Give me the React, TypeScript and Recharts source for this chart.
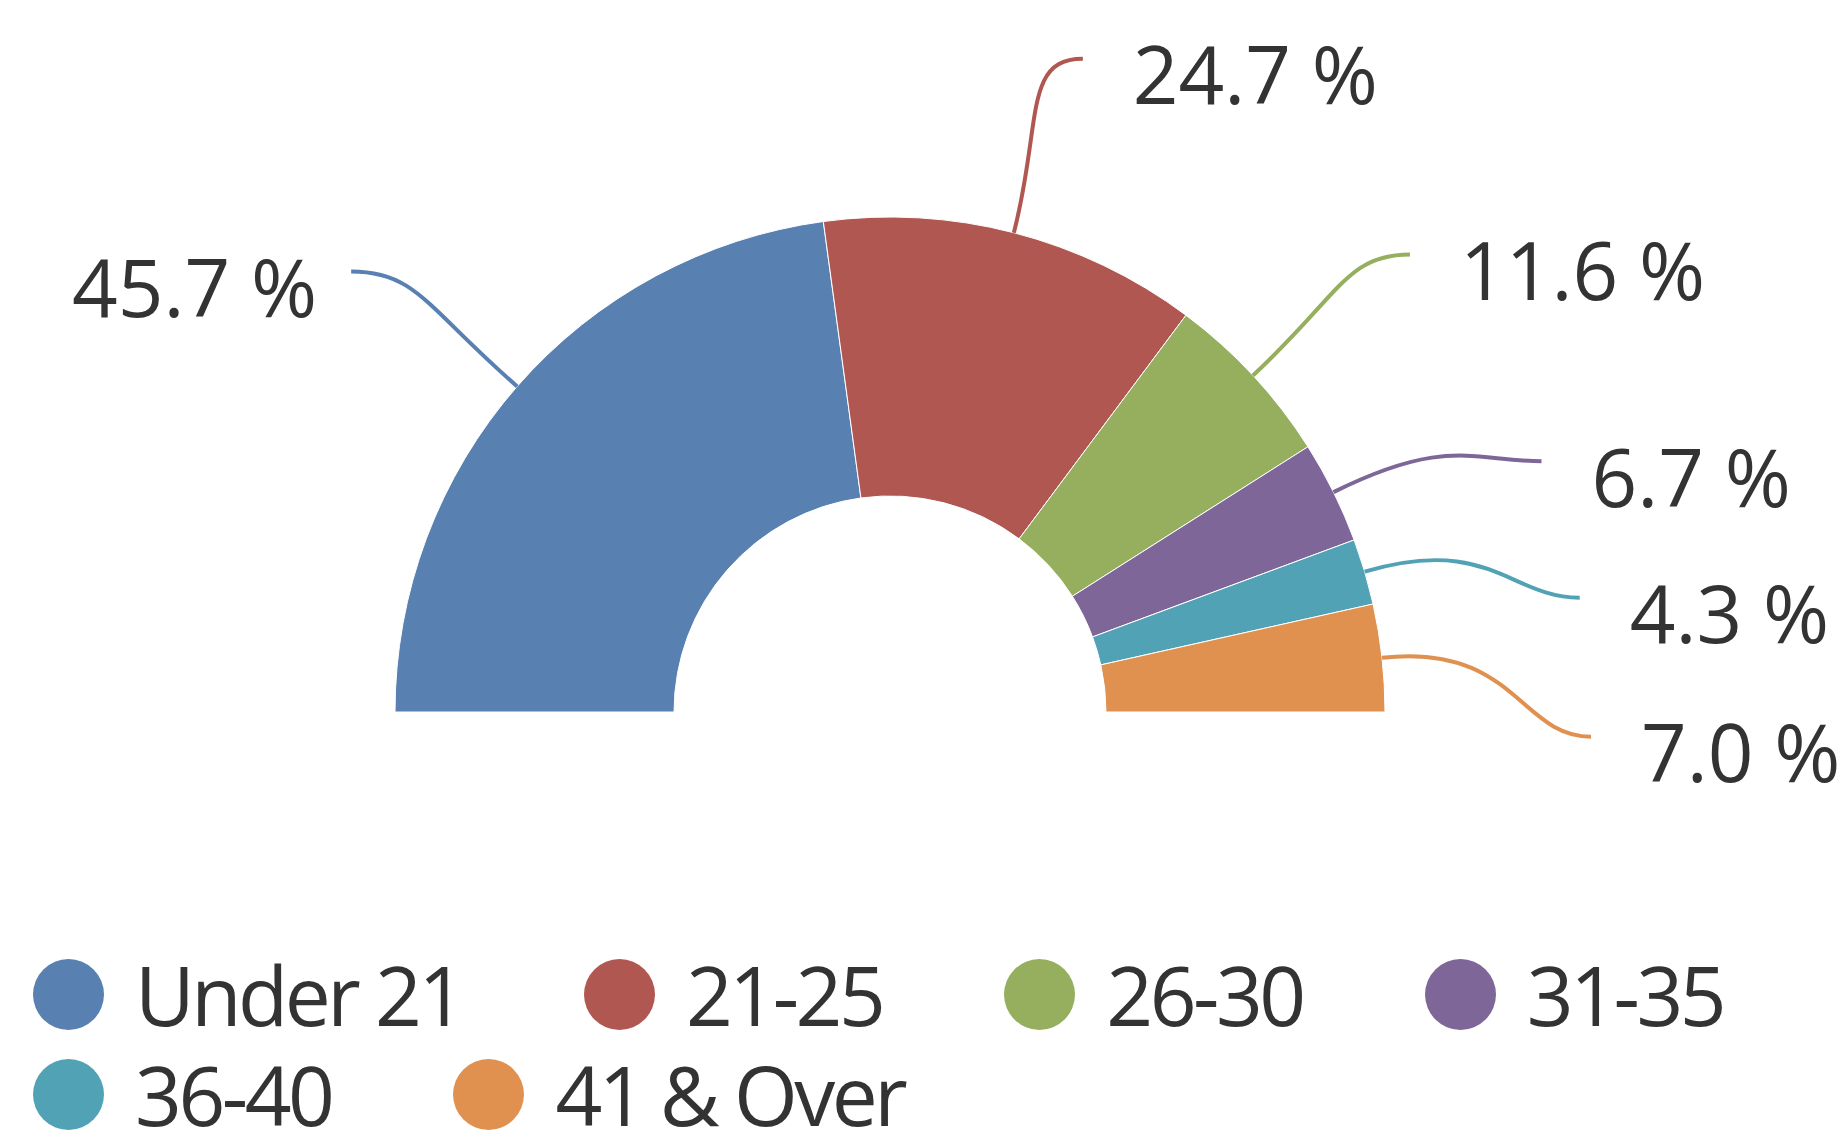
import { PieChart, Pie, Cell, Legend } from 'recharts';

const ageGroups = ['Under 21', '21-25', '26-30', '31-35', '36-40', '41 & Over'];
const shares = [45.7, 24.7, 11.6, 6.7, 4.3, 7.0];
const sliceColors = ['#5880B0', '#B15752', '#96AF5E', '#7E6699', '#52A2B6', '#E0914F'];

// where each label line ends, relative to the slice's outer edge
const labelNudge = [
    [-166, -115],
    [69, -174],
    [157, -121],
    [208, -31],
    [215, 26],
    [209, 79],
];

const data = ageGroups.map((name, i) => ({ name, value: shares[i] }));

const RAD = Math.PI / 180;
const FONT = '"Open Sans", sans-serif';
const LEGEND_PER_ROW = 4;

const renderLabel = (props: any) => {
    const { cx, cy, midAngle, outerRadius, index, value } = props;
    const cos = Math.cos(midAngle * RAD);
    const sin = -Math.sin(midAngle * RAD);
    const x0 = cx + outerRadius * cos;
    const y0 = cy + outerRadius * sin;
    const [dx, dy] = labelNudge[index];
    const x3 = x0 + dx;
    const y3 = y0 + dy;
    const dist = Math.hypot(dx, dy);
    const x1 = x0 + cos * dist * 0.6;
    const y1 = y0 + sin * dist * 0.6;
    const dir = dx < 0 ? -1 : 1;
    const x2 = x3 - dir * dist * 0.32;
    const y2 = y3;
    return (
        <g>
            <path
                d={`M${x0},${y0} C${x1},${y1} ${x2},${y2} ${x3},${y3}`}
                stroke={sliceColors[index]}
                strokeWidth={4}
                fill="none"
            />
            <text
                x={dir < 0 ? x3 - 34 : x3 + 50}
                y={y3 + 14}
                textAnchor={dir < 0 ? 'end' : 'start'}
                dominantBaseline="central"
                fill="#333"
                fontSize={80}
                fontFamily={FONT}
            >
                {`${Number(value).toFixed(1)} %`}
            </text>
        </g>
    );
};

const LegendItem = ({ i }: { i: number }) => (
    <div style={{ display: 'flex', alignItems: 'center', height: 100, marginRight: 122 }}>
        <span
            style={{
                width: 71,
                height: 71,
                borderRadius: '50%',
                background: sliceColors[i],
                marginRight: 31,
                flexShrink: 0,
            }}
        />
        <span style={{ fontSize: 82, lineHeight: '100px', letterSpacing: -3.5, whiteSpace: 'nowrap' }}>
            {ageGroups[i]}
        </span>
    </div>
);

const renderLegend = () => {
    const rows: number[][] = [];
    ageGroups.forEach((_, i) => {
        if (i % LEGEND_PER_ROW === 0) rows.push([]);
        rows[rows.length - 1].push(i);
    });
    return (
        <div style={{ fontFamily: FONT, color: '#333' }}>
            {rows.map((row, r) => (
                <div key={r} style={{ display: 'flex', whiteSpace: 'nowrap' }}>
                    {row.map((i) => (
                        <LegendItem key={i} i={i} />
                    ))}
                </div>
            ))}
        </div>
    );
};

const App = () => {
    return (
        <div style={{ position: 'absolute', left: 0, top: 0, width: 1845, height: 1130, background: '#fff', overflow: 'hidden' }}>
            <PieChart width={1845} height={1130} margin={{ top: 0, right: 0, bottom: 0, left: 0 }}>
                <Pie
                    data={data}
                    dataKey="value"
                    nameKey="name"
                    cx={890}
                    cy={712}
                    innerRadius={216}
                    outerRadius={495}
                    startAngle={180}
                    endAngle={0}
                    stroke="#fff"
                    strokeWidth={1}
                    label={renderLabel}
                    labelLine={false}
                    isAnimationActive={false}
                >
                    {data.map((d, i) => (
                        <Cell key={d.name} fill={sliceColors[i]} />
                    ))}
                </Pie>
                <Legend
                    content={renderLegend}
                    wrapperStyle={{ left: 33, top: 944, width: 1812, bottom: 'auto' }}
                />
            </PieChart>
        </div>
    );
};

export default App;
